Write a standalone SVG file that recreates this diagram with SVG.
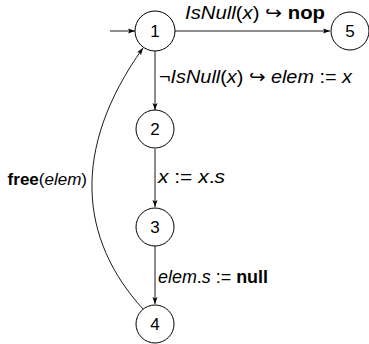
<svg xmlns="http://www.w3.org/2000/svg" width="369" height="344" viewBox="0 0 369 344">
<style>
.n{fill:none;stroke:#000;stroke-width:1}
.e{fill:none;stroke:#000;stroke-width:0.9;marker-end:url(#a)}
text{font-family:"Liberation Sans",Arial,sans-serif;font-size:18px;fill:#000}
.num{text-anchor:middle;font-size:17px}
.i{font-style:italic}
.b{font-weight:bold}
</style>
<defs>
<marker id="a" markerWidth="8" markerHeight="6" refX="7" refY="3" orient="auto" markerUnits="userSpaceOnUse">
<path d="M0,0.5 L7,3 L0,5.5 L1.5,3 Z" fill="#000"/>
</marker>
</defs>
<g id="edges">
<path class="e" d="M110,31 L135,31"/>
<path class="e" d="M175,31 L330,31"/>
<path class="e" d="M155,51 L155,110"/>
<path class="e" d="M155,149 L155,207"/>
<path class="e" d="M155,246 L155,304"/>
<path class="e" d="M143,309 C80,240 70,150 143,48"/>
<text x="185" y="19" textLength="140" lengthAdjust="spacingAndGlyphs"><tspan class="i">IsNull</tspan>(<tspan class="i">x</tspan>) ↪ <tspan class="b">nop</tspan></text>
<text x="159" y="83" textLength="193" lengthAdjust="spacingAndGlyphs">¬<tspan class="i">IsNull</tspan>(<tspan class="i">x</tspan>) ↪ <tspan class="i">elem</tspan> := <tspan class="i">x</tspan></text>
<text x="158" y="183" textLength="67" lengthAdjust="spacingAndGlyphs"><tspan class="i">x</tspan> := <tspan class="i">x</tspan>.<tspan class="i">s</tspan></text>
<text x="158" y="283" textLength="110" lengthAdjust="spacingAndGlyphs"><tspan class="i">elem</tspan>.<tspan class="i">s</tspan> := <tspan class="b">null</tspan></text>
<text x="87" y="185" text-anchor="end" style="font-size:17px"><tspan class="b">free</tspan>(<tspan class="i">elem</tspan>)</text>
</g>
<g id="n1"><circle class="n" cx="155" cy="31" r="20"/><text class="num" x="155" y="37">1</text></g>
<g id="n5"><circle class="n" cx="350" cy="31" r="19"/><text class="num" x="350" y="37">5</text></g>
<g id="n2"><circle class="n" cx="155" cy="129" r="19"/><text class="num" x="155" y="135">2</text></g>
<g id="n3"><circle class="n" cx="155" cy="227" r="19"/><text class="num" x="155" y="233">3</text></g>
<g id="n4"><circle class="n" cx="155" cy="324" r="19"/><text class="num" x="155" y="330">4</text></g>
</svg>
